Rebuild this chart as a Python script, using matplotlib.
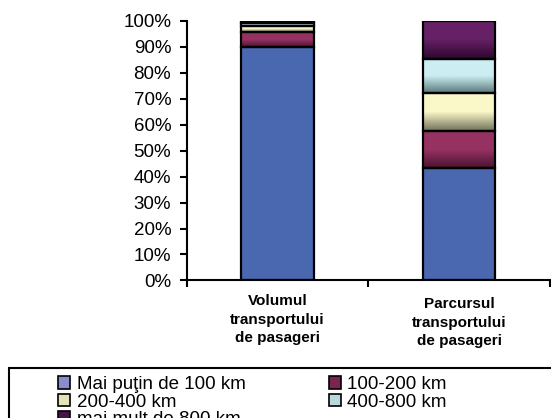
import numpy as np
import matplotlib
matplotlib.use("Agg")
import matplotlib.pyplot as plt
import matplotlib.transforms as mtransforms
from matplotlib.colors import LinearSegmentedColormap
from matplotlib.patches import Rectangle
from matplotlib.ticker import FuncFormatter

plt.rcParams['font.family'] = ['Liberation Sans', 'DejaVu Sans']

# date (procente)
categorii = ['Volumul\ntransportului\nde pasageri', 'Parcursul\ntransportului\nde pasageri']
serii = ['Mai puţin de 100 km', '100-200 km', '200-400 km', '400-800 km', 'mai mult de 800 km']
volum = [90, 5.5, 2.5, 1, 1]
parcurs = [43.3, 14.2, 14.7, 13.1, 14.7]

# culori: (sus, jos) pentru gradient
culori = [('#4A68B0', '#4A68B0'),
          ('#963262', '#4A1430'),
          ('#FAF8C8', '#72725A'),
          ('#CCEEF2', '#5C7A7C'),
          ('#662066', '#2C082C')]
culori_legenda = ['#8A8CCC', '#7A2450', '#E6E4BA', '#B8D8DA', '#4A144A']

fig = plt.figure(figsize=(5.51, 4.18), dpi=100)
ax = fig.add_axes([0.3385, 0.329, 0.6595, 0.6215])

x = np.arange(len(categorii))
latime = 0.4
date = np.array([volum, parcurs]).T
baza = np.zeros(len(categorii))
grad = np.linspace(0, 1, 64).reshape(-1, 1)
for i, (sus, jos) in enumerate(culori):
    cmap = LinearSegmentedColormap.from_list('g%d' % i, [jos, sus, sus])
    for j in range(len(categorii)):
        y0, y1 = baza[j], baza[j] + date[i, j]
        ax.imshow(grad, cmap=cmap, origin='lower', aspect='auto', zorder=2,
                  extent=(x[j] - latime / 2, x[j] + latime / 2, y0, y1))
    ax.bar(x, date[i], latime, bottom=baza, facecolor='none', edgecolor='black',
           linewidth=1.6, zorder=3)
    baza += date[i]

ax.set_xlim(-0.5, 1.5)
ax.set_ylim(0, 100)
ax.set_yticks(np.arange(0, 101, 10))
ax.yaxis.set_major_formatter(FuncFormatter(lambda v, p: '%d%%' % v))
ax.set_xticks([-0.5, 0.5, 1.5])
ax.set_xticklabels([])
ax.set_xticks(x, minor=True)
ax.set_xticklabels(categorii, minor=True, fontsize=11, fontweight='bold', linespacing=1.38)
ax.tick_params(axis='x', which='minor', length=0, pad=10)
ax.tick_params(axis='x', which='major', length=5, width=1.5, direction='out')
ax.tick_params(axis='y', length=5, width=1.5, pad=6, labelsize=13.5)
for s in ['top', 'right']:
    ax.spines[s].set_visible(False)
for s in ['left', 'bottom']:
    ax.spines[s].set_linewidth(1.5)
# a doua eticheta putin mai jos, ca in original
lbl = ax.get_xticklabels(minor=True)[1]
lbl.set_transform(lbl.get_transform() + mtransforms.ScaledTranslation(0, -3 / 100, fig.dpi_scale_trans))

# legenda (ordine pe randuri)
ordine = [0, 2, 4, 1, 3]
handles = [Rectangle((0, 0), 1, 1, facecolor=culori_legenda[k], edgecolor='black', linewidth=1.2)
           for k in ordine]
fig.legend(handles, [serii[k] for k in ordine], ncol=2, loc='upper left',
           bbox_to_anchor=(58 / 551, 1 - 376 / 418), bbox_transform=fig.transFigure,
           frameon=False, fontsize=13.5, labelspacing=0.03, handlelength=0.65,
           handleheight=0.65, handletextpad=0.35, columnspacing=4.42, borderpad=0,
           borderaxespad=0)
fig.patches.append(Rectangle((9 / 551, -0.05), 1.0, 49 / 418 + 0.05 + 0.002,
                             transform=fig.transFigure, fill=False,
                             edgecolor='black', linewidth=1.5))

fig.savefig('out.png', dpi=100)
